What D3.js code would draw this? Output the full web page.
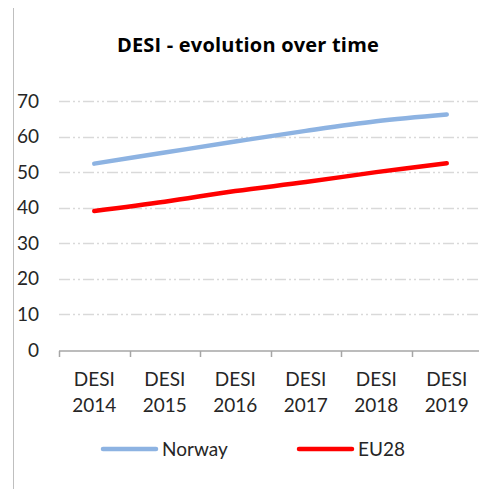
<!DOCTYPE html>
<html>
<head>
<meta charset="utf-8">
<script src="https://cdn.jsdelivr.net/npm/d3@7"></script>
<style>
  html, body { margin: 0; padding: 0; background: #fff; overflow: hidden; }
  svg { display: block; }
  text { font-family: Lato, 'Open Sans', sans-serif; fill: #262626; }
</style>
</head>
<body>
<script>
const categories = ['DESI 2014', 'DESI 2015', 'DESI 2016', 'DESI 2017', 'DESI 2018', 'DESI 2019'];
const norway = [52.4, 55.5, 58.6, 61.6, 64.3, 66.2];
const eu28 = [39.1, 41.7, 44.7, 47.2, 50.0, 52.5];
const yTicks = [0, 10, 20, 30, 40, 50, 60, 70];

const w = 479;
const h = 489;

const series = [
  { name: 'Norway', values: norway, color: '#8db3e2' },
  { name: 'EU28', values: eu28, color: '#ff0000' },
];

const svg = d3.select('body').append('svg').attr('width', w).attr('height', h);

// chart frame border (left edge only visible in the crop)
svg.append('line')
  .attr('x1', 13.5).attr('x2', 13.5)
  .attr('y1', 8).attr('y2', h)
  .attr('stroke', '#bfbfbf');

svg.append('text')
  .attr('x', 248).attr('y', 52)
  .attr('text-anchor', 'middle')
  .attr('font-size', '20px')
  .attr('font-weight', 'bold')
  .attr('letter-spacing', '0.2px')
  .style('font-family', "'Open Sans', sans-serif")
  .style('fill', '#000')
  .text('DESI - evolution over time');

const x = d3.scaleBand().domain(categories).range([59, 482]);
const y = d3.scaleLinear().domain([0, 70]).range([350, 101]);

// gridlines
svg.append('g')
  .selectAll('line')
  .data(yTicks.filter((d) => d > 0))
  .enter()
  .append('line')
  .attr('x1', 59).attr('x2', w)
  .attr('y1', (d) => Math.round(y(d)) + 0.5)
  .attr('y2', (d) => Math.round(y(d)) + 0.5)
  .attr('stroke', '#d9d9d9')
  .attr('stroke-width', 1.5)
  .attr('stroke-dasharray', '11,3,2,3,2,3');

// y labels
svg.append('g')
  .selectAll('text')
  .data(yTicks)
  .enter()
  .append('text')
  .attr('x', 39)
  .attr('y', (d) => y(d) + 6.5)
  .attr('text-anchor', 'end')
  .attr('font-size', '19px')
  .text((d) => d);

// x axis
const xAxis = svg.append('g').attr('transform', 'translate(0,351)');
xAxis.append('line')
  .attr('x1', 59).attr('x2', w)
  .attr('stroke', '#a6a6a6').attr('stroke-width', 1.5);
xAxis.selectAll('.tick')
  .data(categories)
  .enter()
  .append('line')
  .attr('x1', (d) => Math.round(x(d)) + 0.5)
  .attr('x2', (d) => Math.round(x(d)) + 0.5)
  .attr('y1', 0).attr('y2', 6)
  .attr('stroke', '#a6a6a6').attr('stroke-width', 1.5);

const xLabels = svg.append('g')
  .selectAll('text')
  .data(categories)
  .enter()
  .append('text')
  .attr('text-anchor', 'middle')
  .attr('font-size', '19px');
xLabels.append('tspan')
  .attr('x', (d) => x(d) + x.bandwidth() / 2)
  .attr('y', 386)
  .text((d) => d.split(' ')[0]);
xLabels.append('tspan')
  .attr('x', (d) => x(d) + x.bandwidth() / 2)
  .attr('y', 412)
  .text((d) => d.split(' ')[1]);

// lines
const line = d3.line()
  .x((d, i) => x(categories[i]) + x.bandwidth() / 2)
  .y((d) => y(d))
  .curve(d3.curveCatmullRom);

svg.append('g')
  .selectAll('path')
  .data(series)
  .enter()
  .append('path')
  .attr('d', (d) => line(d.values))
  .attr('fill', 'none')
  .attr('stroke', (d) => d.color)
  .attr('stroke-width', 4.5)
  .attr('stroke-linecap', 'round');

// legend
const legendX = [103, 299];
const legend = svg.append('g')
  .selectAll('g')
  .data(series)
  .enter()
  .append('g')
  .attr('transform', (d, i) => `translate(${legendX[i]},449)`);
legend.append('line')
  .attr('x1', 0).attr('x2', 53)
  .attr('stroke', (d) => d.color)
  .attr('stroke-width', 4.5)
  .attr('stroke-linecap', 'round');
legend.append('text')
  .attr('x', 59).attr('y', 7)
  .attr('font-size', '19px')
  .text((d) => d.name);
</script>
</body>
</html>
